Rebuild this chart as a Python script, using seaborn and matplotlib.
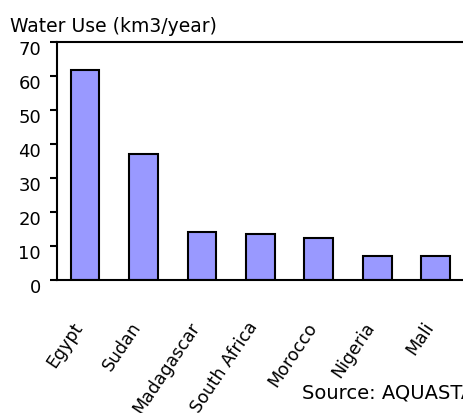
import matplotlib
matplotlib.use("Agg")
import matplotlib.pyplot as plt
import matplotlib.transforms as mtransforms
import pandas as pd
import seaborn as sns

countries = ["Egypt", "Sudan", "Madagascar", "South Africa", "Morocco", "Nigeria", "Mali"]
water_use = [61.8, 37.1, 14.1, 13.5, 12.4, 7.0, 7.0]
y_ticks = [0, 10, 20, 30, 40, 50, 60, 70]

sns.set_theme(style="white")
plt.rcParams["font.family"] = ["DejaVu Sans"]

W, H = 463, 414
fig = plt.figure(figsize=(W / 100, H / 100), dpi=100)
ax = fig.add_axes([57 / W, (H - 281) / H, 409 / W, 238 / H])

df = pd.DataFrame({"country": countries, "use": water_use})
sns.barplot(data=df, x="country", y="use", color="#9999FF", saturation=1,
            edgecolor="black", linewidth=1.5, width=0.49, ax=ax)

ax.set_ylim(0, 70)
ax.set_xlim(-0.48, 6.52)
ax.set_yticks(y_ticks)
ax.set_yticklabels([str(v) for v in y_ticks], fontsize=13, color="black")
ax.set_xlabel("")
ax.set_ylabel("")

for side in ["left", "bottom", "top"]:
    ax.spines[side].set_visible(True)
    ax.spines[side].set_color("black")
    ax.spines[side].set_linewidth(1.5)
ax.spines["right"].set_visible(False)

ax.tick_params(axis="y", which="major", left=True, length=5, width=1.5,
               direction="out", pad=6.5, colors="black")
ax.tick_params(axis="x", which="major", bottom=False, length=0)

# nudge y labels slightly below their ticks
down = mtransforms.ScaledTranslation(0, -5 / 100, fig.dpi_scale_trans)
for lbl in ax.get_yticklabels():
    lbl.set_transform(lbl.get_transform() + down)

# rotated country labels hanging well below the axis
ax.set_xticks(range(len(countries)))
ax.set_xticklabels(countries, rotation=56, ha="right", va="center",
                   rotation_mode="anchor", fontsize=12.5, color="black")
shift = mtransforms.ScaledTranslation(-6 / 100, -38 / 100, fig.dpi_scale_trans)
for lbl in ax.get_xticklabels():
    lbl.set_transform(lbl.get_transform() + shift)

fig.text(10 / W, (H - 32) / H, "Water Use (km3/year)", fontsize=13.5,
         ha="left", va="baseline", color="black")
fig.text(302 / W, (H - 399) / H, "Source: AQUASTAT", fontsize=14,
         ha="left", va="baseline", color="black")

fig.savefig("out.png", dpi=100, facecolor="white")
